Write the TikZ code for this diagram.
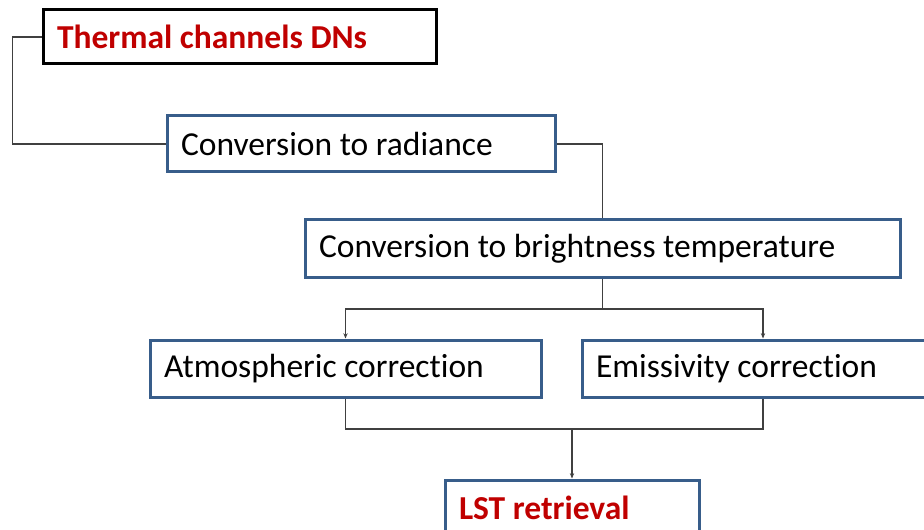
\documentclass[tikz,border=0pt]{standalone}
\usepackage{fontspec}
\setmainfont[RawFeature={-liga;-clig;-dlig}]{Carlito}
\usetikzlibrary{arrows.meta}
\definecolor{boxblue}{RGB}{56,93,138}
\definecolor{darkred}{RGB}{192,0,0}
\definecolor{linegray}{RGB}{64,64,64}
\newcommand\boxfont{\fontsize{28.6}{32}\selectfont}
\tikzset{
  box/.style={rectangle,draw=boxblue,line width=0.09cm,fill=white,align=flush left,
    inner xsep=0.42cm,font=\boxfont},
  start/.style={box,draw=black,text=darkred,font=\boxfont\bfseries},
  link/.style={draw=linegray,line width=0.045cm},
  arr/.style={link,-{Stealth[length=0.16cm,width=0.13cm]}}
}
\begin{document}
\begin{tikzpicture}
\clip (0,0) rectangle (27.72,15.87);
\fill[white] (0,0) rectangle (27.72,15.87);

\node[start,text width=10.95cm,minimum height=1.62cm] (dn) at (7.185,14.76) {Thermal channels DNs};
\node[box,text width=10.80cm,minimum height=1.68cm] (rad) at (10.83,11.55) {Conversion to radiance};
\node[box,text width=17.01cm,minimum height=1.71cm] (bt) at (18.075,8.415) {Conversion to brightness temperature};
\node[box,text width=10.89cm,minimum height=1.71cm] (atm) at (10.365,4.815) {Atmospheric correction};
\node[box,text width=10.02cm,minimum height=1.71cm] (emi) at (22.89,4.815) {Emissivity correction};
\node[box,text=darkred,font=\boxfont\bfseries,text width=6.78cm,minimum height=1.68cm] (lst) at (17.16,0.63) {LST retrieval};

\coordinate (split) at (18.075,6.6);
\coordinate (merge) at (17.16,3.0);

\draw[link] (dn.west) -- ++(-0.87,0) |- (rad.west);
\draw[link] (rad.east) -| (bt.north);
\draw[link] (bt.south) -- (split);
\draw[arr] (split) -| (atm.north);
\draw[arr] (split) -| (emi.north);
\draw[link] (atm.south) |- (merge) -| (emi.south);
\draw[arr] (merge) -- (lst.north);

\end{tikzpicture}
\end{document}
